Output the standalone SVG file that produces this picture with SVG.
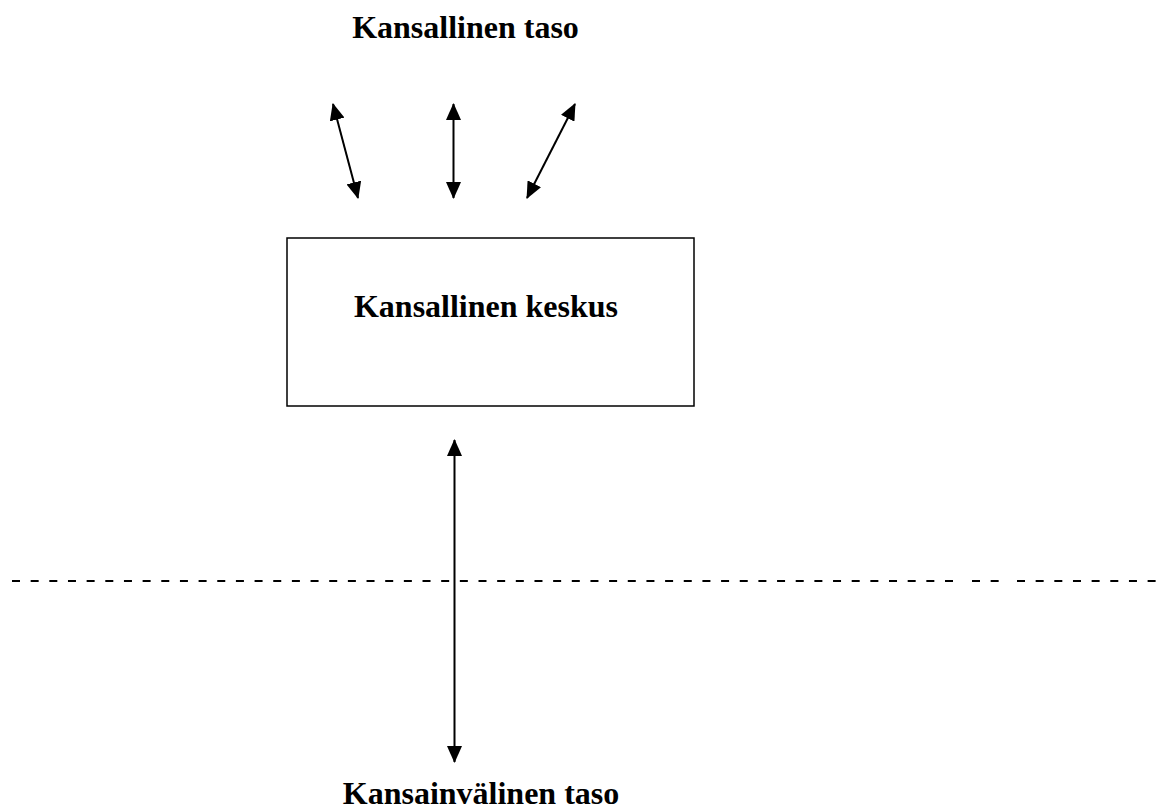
<svg xmlns="http://www.w3.org/2000/svg" width="1165" height="812" viewBox="0 0 1165 812">
<style>
.lbl{font-family:"Liberation Serif","Times New Roman",serif;font-weight:bold;font-size:32px;fill:#000;text-anchor:middle}
.arr{stroke:#000;stroke-width:2;fill:none;marker-start:url(#ah);marker-end:url(#ah)}
.dash{stroke:#000;stroke-width:2;stroke-dasharray:8 10.66;fill:none}
</style>
<defs>
<marker id="ah" markerUnits="userSpaceOnUse" markerWidth="17" markerHeight="15" refX="16" refY="7.5" orient="auto-start-reverse" viewBox="0 0 17 15">
<path d="M0,0 L17,7.5 L0,15 Z" fill="#000"/>
</marker>
</defs>
<rect width="1165" height="812" fill="#fff"/>
<g id="label-national-level"><text class="lbl" x="465.5" y="38">Kansallinen taso</text></g>
<g id="national-center">
<rect x="287" y="238" width="407" height="168" fill="#fff" stroke="#000" stroke-width="1.5"/>
<text class="lbl" x="486" y="317">Kansallinen keskus</text>
</g>
<g id="label-international-level"><text class="lbl" x="481" y="804">Kansainvälinen taso</text></g>
<g id="divider">
<line class="dash" x1="12" y1="581" x2="954" y2="581"/>
<line class="dash" x1="972" y1="581" x2="1000" y2="581"/>
<line class="dash" x1="1017" y1="581" x2="1157" y2="581"/>
</g>
<g id="connectors">
<line class="arr" x1="333" y1="104" x2="358" y2="198"/>
<line class="arr" x1="453.5" y1="104" x2="453.5" y2="198"/>
<line class="arr" x1="575" y1="104" x2="527" y2="198"/>
<line class="arr" x1="454.5" y1="440" x2="454.5" y2="762"/>
</g>
</svg>
